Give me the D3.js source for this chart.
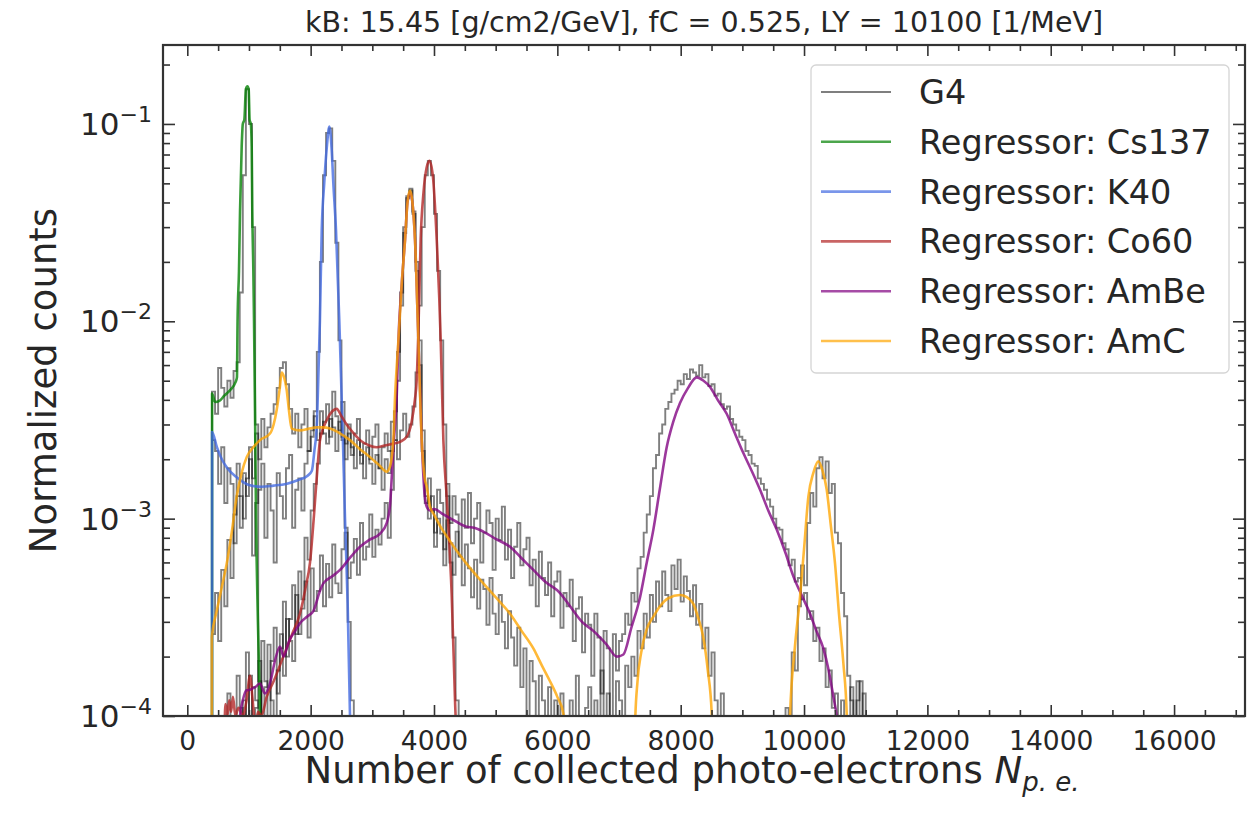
<!DOCTYPE html>
<html><head><meta charset="utf-8">
<script src="https://cdn.jsdelivr.net/npm/d3@7/dist/d3.min.js"></script>
<style>body{margin:0;background:#fff}svg{font-family:"DejaVu Sans",sans-serif}</style>
</head><body><svg id="chart" width="1256" height="813"></svg>
<script>
// ---------------- DATA ----------------
const titleText = "kB: 15.45 [g/cm2/GeV], fC = 0.525, LY = 10100 [1/MeV]";
const xTicks = [0,2000,4000,6000,8000,10000,12000,14000,16000];
const yTicks = [1e-4,1e-3,1e-2,1e-1];
const yTickExp = ["\u22124","\u22123","\u22122","\u22121"];
const seriesNames = ["G4","Regressor: Cs137","Regressor: K40","Regressor: Co60","Regressor: AmBe","Regressor: AmC"];
const seriesColors = ["#000000","#008000","#4169e1","#b22222","#800080","#ffa500"];

const binWidth = 50;
// G4 histograms (bin contents, bins of 50 p.e. starting at *Start)
const g4Cs137Start = 400;
const g4Cs137 = [4.4e-3,3.4e-3,5.8e-3,4.6e-3,3.7e-3,5.0e-3,4.1e-3,5.6e-3,6.2e-3,1.4e-2,5.5e-2,0.15,0.1,3e-2,3e-3,1.5e-4];
const g4K40Start = 400;
const g4K40 = [2.5e-3,2.2e-3,1.5e-3,2.3e-3,1.2e-3,1.8e-3,1.5e-3,7.5e-4,1.9e-3,1.3e-3,1.0e-3,1.6e-3,2.0e-3,6.5e-4,1.2e-3,1.4e-3,1.9e-3,8e-4,1.5e-3,1.1e-3,6e-4,1.7e-3,1.3e-3,1.0e-3,1.8e-3,2.1e-3,9e-4,1.4e-3,1.6e-3,1.1e-3,1.9e-3,
 2.2e-3,2.6e-3,3.5e-3,7e-3,2e-2,5.5e-2,9e-2,9.5e-2,6.5e-2,2.5e-2,8e-3,2.5e-3,9e-4,3e-4,1.2e-4];
const g4Co60Start = 600;
const g4Co60 = [0,1.3e-4,0,0,1.6e-4,1.1e-4,0,2.1e-4,0,1.4e-4,1.2e-4,0,2.4e-4,1.5e-4,0,1.9e-4,2.8e-4,1.3e-4,2.2e-4,3.8e-4,2.0e-4,3.1e-4,4.6e-4,2.6e-4,5.4e-4,3.9e-4,8e-4,6.2e-4,1.1e-3,1.5e-3,1.9e-3,2.7e-3,3.1e-3,3.8e-3,2.6e-3,4.4e-3,3.3e-3,2.8e-3,3.9e-3,2.4e-3,3.0e-3,2.1e-3,2.7e-3,3.2e-3,1.9e-3,2.4e-3,2.8e-3,2.0e-3,2.6e-3,3.0e-3,1.8e-3,2.3e-3,2.7e-3,2.2e-3,3.1e-3,2.5e-3,2.0e-3,2.8e-3,3.4e-3,2.6e-3,3.0e-3,3.7e-3,5.5e-3,1.2e-2,3e-2,5.5e-2,6.5e-2,5.5e-2,3.5e-2,1.8e-2,8e-3,3e-3,1.3e-3,6e-4,2.5e-4,1.2e-4];
const g4AmBeStart = 850;
const g4AmBe = [0,1.2e-4,0,1.6e-4,0,1.1e-4,1.9e-4,0,1.4e-4,2.3e-4,1.2e-4,0,1.7e-4,2.6e-4,
 1.6e-4,3.1e-4,2.4e-4,1.9e-4,4.1e-4,2.6e-4,3.5e-4,4.8e-4,2.5e-4,5.6e-4,3.4e-4,4.3e-4,6.5e-4,3.6e-4,5.9e-4,4.0e-4,7.4e-4,4.7e-4,4.2e-4,7.0e-4,8.5e-4,5.0e-4,6.0e-4,7.9e-4,5.2e-4,9.5e-4,6.2e-4,7.2e-4,1.05e-3,6.4e-4,8.8e-4,7.4e-4,1.0e-3,1.2e-3,8.0e-4,1.4e-3,
 2.5e-3,5e-3,1.2e-2,2.8e-2,4.2e-2,4.6e-2,3.5e-2,1.8e-2,6e-3,2.2e-3,1.2e-3,
 1.6e-3,1.1e-3,8.5e-4,1.4e-3,1.2e-3,7e-4,1.5e-3,9.5e-4,1.3e-3,1.05e-3,6.5e-4,1.25e-3,
 9e-4,1.35e-3,7.5e-4,1.0e-3,1.2e-3,6e-4,8.5e-4,1.1e-3,9.5e-4,5.5e-4,1.0e-3,7.8e-4,1.15e-3,6.2e-4,8.8e-4,5.0e-4,7.2e-4,9.5e-4,5.8e-4,7.0e-4,
 8.0e-4,4.6e-4,6.2e-4,3.6e-4,6.8e-4,5.0e-4,4.1e-4,6.0e-4,3.2e-4,4.8e-4,5.4e-4,2.8e-4,4.2e-4,3.6e-4,4.9e-4,2.4e-4,3.5e-4,4.0e-4,2.1e-4,3.3e-4,
 2.9e-4,1.6e-4,3.3e-4,2.5e-4,1.3e-4,2.7e-4,2.2e-4,0,2.6e-4,1.7e-4,2.4e-4,
 2.6e-4,3.3e-4,2.9e-4,4.2e-4,3.8e-4,5.6e-4,6.4e-4,8.5e-4,1.05e-3,1.3e-3,1.8e-3,2.1e-3,2.7e-3,3.0e-3,3.6e-3,3.9e-3,4.3e-3,4.5e-3,5.0e-3,4.8e-3,5.4e-3,5.1e-3,5.7e-3,5.5e-3,5.3e-3,6.0e-3,
 5.2e-3,5.4e-3,4.7e-3,4.8e-3,4.2e-3,4.3e-3,3.8e-3,3.6e-3,3.7e-3,3.2e-3,3.0e-3,2.8e-3,2.6e-3,2.5e-3,2.2e-3,2.1e-3,1.9e-3,1.85e-3,1.6e-3,1.5e-3,1.4e-3,1.25e-3,1.15e-3,1.0e-3,9e-4,8.8e-4,7.5e-4,7.0e-4,5.8e-4,6.2e-4,4.8e-4,5.0e-4,3.9e-4,
 4.2e-4,3.1e-4,3.4e-4,2.4e-4,2.8e-4,1.9e-4,2.2e-4,1.4e-4,1.7e-4,1.1e-4,1.3e-4,0,1.2e-4,0,0,1.4e-4,0,1.2e-4,1.5e-4,0];
const g4AmCStart = 400;
const g4AmC = [2.6e-4,4.2e-4,2.4e-4,5.5e-4,3.6e-4,7.8e-4,5.0e-4,1.05e-3,1.3e-3,9e-4,1.7e-3,1.3e-3,2.3e-3,1.6e-3,2.7e-3,2.0e-3,3.2e-3,2.3e-3,2.9e-3,3.4e-3,
 3.8e-3,4.6e-3,5.8e-3,6.2e-3,4.8e-3,3.6e-3,2.7e-3,
 3.4e-3,2.3e-3,3.0e-3,3.6e-3,2.2e-3,2.8e-3,3.3e-3,2.5e-3,3.5e-3,2.7e-3,2.4e-3,3.2e-3,2.9e-3,2.2e-3,3.1e-3,2.6e-3,2.0e-3,2.7e-3,2.3e-3,1.8e-3,2.5e-3,2.1e-3,1.6e-3,2.3e-3,1.9e-3,1.5e-3,2.1e-3,1.8e-3,1.4e-3,2.0e-3,1.7e-3,2.2e-3,
 3.5e-3,7e-3,1.4e-2,3e-2,4.3e-2,4.7e-2,3.6e-2,2e-2,8e-3,2.8e-3,1.3e-3,1.0e-3,
 1.3e-3,7.2e-4,1.0e-3,8.4e-4,5.8e-4,9.8e-4,7.5e-4,5.2e-4,8.6e-4,6.4e-4,4.6e-4,7.4e-4,
 5.6e-4,4.0e-4,6.2e-4,3.5e-4,4.9e-4,4.4e-4,2.9e-4,5.0e-4,3.3e-4,2.6e-4,4.1e-4,3.0e-4,2.2e-4,3.4e-4,
 2.5e-4,1.8e-4,2.8e-4,1.4e-4,2.2e-4,0,1.9e-4,1.5e-4,0,1.6e-4,1.2e-4,0,1.4e-4,0,1.2e-4,0,
 1.3e-4,0,0,1.2e-4,0,1.6e-4,0,0,1.1e-4,1.4e-4,0,1.2e-4,0,1.7e-4,0,1.3e-4,0,0,1.5e-4,1.2e-4,0,1.8e-4,1.4e-4,
 2.0e-4,1.6e-4,2.7e-4,2.2e-4,3.3e-4,2.5e-4,4.1e-4,3.0e-4,4.8e-4,3.6e-4,5.4e-4,4.1e-4,3.4e-4,5.8e-4,4.4e-4,6.2e-4,3.8e-4,5.1e-4,4.3e-4,3.2e-4,4.6e-4,2.9e-4,3.7e-4,2.2e-4,2.8e-4,1.6e-4,2.1e-4,1.2e-4,0,1.3e-4,
 0,0,0,0,0,0,0,0,0,0,0,0,0,0,0,0,0,0,0,0,
 1.1e-4,0,2.1e-4,1.7e-4,3.6e-4,5.8e-4,4.6e-4,9.5e-4,1.35e-3,1.15e-3,1.8e-3,2.05e-3,1.6e-3,1.95e-3,1.35e-3,1.5e-3,8.5e-4,7.5e-4,4.2e-4,3.2e-4,1.6e-4,1.2e-4,
 0,1.5e-4,0,1.3e-4,0];

// Regressor curves: [N_pe, normalized counts]
const regCs137 = [[400,1e-7],[402,4.3e-3],[450,3.9e-3],[520,3.95e-3],[600,4.2e-3],[700,4.5e-3],[780,4.9e-3],[805,5.2e-3],[815,1e-2],[838,1.8e-2],[855,3.6e-2],[882,7.7e-2],[900,1.0e-1],[925,1.05e-1],[950,1.5e-1],[975,1.55e-1],[995,1.5e-1],[1010,1.05e-1],[1030,1.0e-1],[1044,7.7e-2],[1054,3.6e-2],[1071,1.8e-2],[1082,1e-2],[1098,3.5e-3],[1115,1e-3],[1145,3e-4],[1180,1e-4],[1200,4e-5]];
const regK40 = [[400,1e-7],[402,2.75e-3],[480,2.3e-3],[560,2.0e-3],[650,1.8e-3],[800,1.62e-3],[1000,1.48e-3],[1200,1.45e-3],[1400,1.47e-3],[1600,1.5e-3],[1800,1.57e-3],[1950,1.65e-3],[2020,1.75e-3],[2060,2.2e-3],[2100,3e-3],[2130,6e-3],[2150,1e-2],[2180,2.9e-2],[2220,5e-2],[2260,7.5e-2],[2303,9.7e-2],[2340,7.5e-2],[2368,5e-2],[2411,2.9e-2],[2465,1e-2],[2519,2.8e-3],[2557,1e-3],[2600,3.7e-4],[2638,1e-4],[2660,4e-5]];
const regCo60 = [[590,5e-5],[620,1.15e-4],[650,1.0e-4],[680,1.2e-4],[710,1.05e-4],[740,1.25e-4],[780,1.0e-4],[830,1.1e-4],[900,1.0e-4],[960,1.2e-4],[1017,1.6e-4],[1060,1.2e-4],[1100,9e-5],[1150,1.05e-4],[1200,1.0e-4],[1287,1.25e-4],[1400,1.5e-4],[1557,2.0e-4],[1700,2.6e-4],[1827,3.3e-4],[1920,4.5e-4],[1990,6e-4],[2050,1e-3],[2098,1.6e-3],[2152,2.5e-3],[2260,3.15e-3],[2350,3.5e-3],[2422,3.6e-3],[2500,3.3e-3],[2584,3.0e-3],[2700,2.7e-3],[2800,2.5e-3],[2950,2.35e-3],[3071,2.3e-3],[3200,2.35e-3],[3341,2.4e-3],[3450,2.45e-3],[3557,2.6e-3],[3638,3.1e-3],[3690,4e-3],[3719,5e-3],[3747,9e-3],[3784,2.6e-2],[3830,4.5e-2],[3880,6e-2],[3926,6.5e-2],[3980,5.5e-2],[4044,2.6e-2],[4109,8e-3],[4152,2.5e-3],[4206,1.28e-3],[4287,4.1e-4],[4341,1.2e-4],[4360,8e-5],[4380,4e-5]];
const regAmBe = [[830,4e-5],[855,1e-4],[900,1.2e-4],[960,1.35e-4],[1017,1.36e-4],[1100,1.4e-4],[1179,1.46e-4],[1260,1.3e-4],[1350,1.5e-4],[1420,1.9e-4],[1503,2.25e-4],[1560,2.0e-4],[1650,2.4e-4],[1750,2.7e-4],[1827,2.95e-4],[1950,3.2e-4],[2044,3.4e-4],[2150,4.3e-4],[2206,4.7e-4],[2350,5.1e-4],[2476,5.5e-4],[2650,6.4e-4],[2800,7.2e-4],[2950,7.8e-4],[3125,8.4e-4],[3233,9.5e-4],[3290,1.2e-3],[3314,1.6e-3],[3350,2.5e-3],[3395,4.1e-3],[3423,8e-3],[3480,1.6e-2],[3531,2.6e-2],[3570,4e-2],[3612,4.5e-2],[3650,4e-2],[3692,2.6e-2],[3747,8e-3],[3801,2.5e-3],[3850,1.3e-3],[3882,1.15e-3],[3936,1.1e-3],[4000,1.12e-3],[4152,1.05e-3],[4350,9.7e-4],[4530,9.1e-4],[4650,9.0e-4],[4800,8.6e-4],[5000,7.9e-4],[5233,7.2e-4],[5420,6.3e-4],[5611,5.5e-4],[5800,4.8e-4],[6044,4.2e-4],[6206,3.6e-4],[6400,3.0e-4],[6584,2.7e-4],[6800,2.3e-4],[6963,2.0e-4],[7071,2.05e-4],[7200,2.8e-4],[7341,4.0e-4],[7450,6e-4],[7557,8.8e-4],[7660,1.4e-3],[7773,2.3e-3],[7880,3.1e-3],[7989,3.85e-3],[8120,4.6e-3],[8260,5.2e-3],[8370,5.0e-3],[8476,4.65e-3],[8600,4.0e-3],[8746,3.4e-3],[8880,2.7e-3],[9016,2.15e-3],[9150,1.75e-3],[9287,1.4e-3],[9420,1.1e-3],[9557,8.8e-4],[9700,6.7e-4],[9827,5.1e-4],[9960,4.1e-4],[10097,3.3e-4],[10200,2.7e-4],[10313,2.2e-4],[10400,1.7e-4],[10476,1.25e-4],[10530,1.0e-4],[10560,8e-5]];
const regAmC = [[395,1e-7],[398,2.5e-4],[477,3.4e-4],[560,4.5e-4],[638,5.9e-4],[720,8.5e-4],[800,1.29e-3],[880,1.7e-3],[963,2.05e-3],[1070,2.3e-3],[1179,2.5e-3],[1341,2.7e-3],[1400,3.0e-3],[1449,3.55e-3],[1500,4.6e-3],[1530,5.5e-3],[1570,5.2e-3],[1611,4.5e-3],[1650,3.5e-3],[1692,2.86e-3],[1827,2.8e-3],[1960,2.85e-3],[2098,2.9e-3],[2200,2.9e-3],[2314,2.86e-3],[2480,2.7e-3],[2638,2.5e-3],[2800,2.25e-3],[2962,2.05e-3],[3100,1.88e-3],[3233,1.73e-3],[3287,1.84e-3],[3341,2.5e-3],[3368,4.1e-3],[3423,8e-3],[3480,1.6e-2],[3531,2.6e-2],[3570,4e-2],[3612,4.6e-2],[3650,4e-2],[3692,2.6e-2],[3747,8e-3],[3801,2.5e-3],[3850,1.6e-3],[3882,1.45e-3],[3936,1.15e-3],[4000,1.05e-3],[4098,9.2e-4],[4200,8.2e-4],[4350,7e-4],[4530,5.9e-4],[4800,4.7e-4],[5000,4.0e-4],[5233,3.3e-4],[5420,2.7e-4],[5611,2.2e-4],[5750,1.8e-4],[5881,1.5e-4],[6000,1.25e-4],[6097,1.03e-4],[6150,5e-5],[6200,1e-7],[7200,1e-7],[7260,9e-5],[7300,1.5e-4],[7360,2.1e-4],[7449,2.75e-4],[7560,3.2e-4],[7665,3.6e-4],[7800,3.95e-4],[7989,4.1e-4],[8100,4.0e-4],[8205,3.7e-4],[8290,3.1e-4],[8367,2.5e-4],[8440,1.7e-4],[8503,1.03e-4],[8530,5e-5],[8560,1e-7],[9720,1e-7],[9773,1e-4],[9850,2.2e-4],[9935,4.0e-4],[10000,7e-4],[10070,1.29e-3],[10150,1.7e-3],[10232,1.95e-3],[10300,1.75e-3],[10368,1.4e-3],[10430,9.5e-4],[10503,5.9e-4],[10570,3.2e-4],[10638,1.85e-4],[10692,1.03e-4],[10720,5e-5],[10750,1e-7]];

// ---------------- LAYOUT ----------------
const P = {l:163, r:1245, t:45, b:716};
const svg = d3.select("#chart");
const x = d3.scaleLinear().domain([-394, 17150]).range([P.l, P.r]);
const y = d3.scaleLog().domain([1e-4, 0.2512]).range([P.b, P.t]);
const yv = v => v > 0 ? y(Math.max(v, 1e-7)) : P.b + 40;

svg.append("defs").append("clipPath").attr("id","clip")
  .append("rect").attr("x",P.l).attr("y",P.t).attr("width",P.r-P.l).attr("height",P.b-P.t);
const gPlot = svg.append("g").attr("clip-path","url(#clip)");

function stepPts(start, vals){
  const pts = [[start,0]];
  vals.forEach((v,i)=>pts.push([start+i*binWidth, v]));
  const end = start + vals.length*binWidth;
  pts.push([end, vals[vals.length-1]]);
  pts.push([end, 0]);
  return pts;
}
const stepLine = d3.line().x(d=>x(d[0])).y(d=>yv(d[1])).curve(d3.curveStepAfter);
[[g4Cs137Start,g4Cs137],[g4K40Start,g4K40],[g4Co60Start,g4Co60],[g4AmBeStart,g4AmBe],[g4AmCStart,g4AmC]].forEach(([s,v])=>{
  gPlot.append("path").attr("d", stepLine(stepPts(s,v)))
    .attr("fill","none").attr("stroke","#000").attr("stroke-opacity",0.5).attr("stroke-width",1.9);
});
const curveLine = d3.line().x(d=>x(d[0])).y(d=>yv(d[1])).curve(d3.curveMonotoneX);
[regCs137, regK40, regCo60, regAmBe, regAmC].forEach((r,i)=>{
  gPlot.append("path").attr("d", curveLine(r)).attr("fill","none")
    .attr("stroke", seriesColors[i+1]).attr("stroke-opacity",0.78).attr("stroke-width",2.6)
    .attr("stroke-linejoin","round");
});

// ---------------- AXES ----------------
const axisColor = "#333";
const minorX = d3.range(0, 17001, 500).filter(v=>v%2000!==0);
const minorY = [];
[1e-4,1e-3,1e-2,1e-1].forEach(d=>{for(let k=2;k<=9;k++){const v=k*d; if(v<0.2512) minorY.push(v);}});

const bottomAxis = d3.axisBottom(x).tickValues(xTicks).tickSize(-11).tickPadding(15).tickFormat(d3.format("d"));
const gx = svg.append("g").attr("transform",`translate(0,${P.b})`).call(bottomAxis);
svg.append("g").attr("transform",`translate(0,${P.b})`).call(d3.axisBottom(x).tickValues(minorX).tickSize(-6).tickFormat(""));
svg.append("g").attr("transform",`translate(0,${P.t})`).call(d3.axisTop(x).tickValues(xTicks).tickSize(-11).tickFormat(""));
svg.append("g").attr("transform",`translate(0,${P.t})`).call(d3.axisTop(x).tickValues(minorX).tickSize(-6).tickFormat(""));
svg.append("g").attr("transform",`translate(${P.l},0)`).call(d3.axisLeft(y).tickValues(yTicks).tickSize(-12).tickFormat(""));
svg.append("g").attr("transform",`translate(${P.l},0)`).call(d3.axisLeft(y).tickValues(minorY).tickSize(-7).tickFormat(""));
svg.append("g").attr("transform",`translate(${P.r},0)`).call(d3.axisRight(y).tickValues(yTicks).tickSize(-12).tickFormat(""));
svg.append("g").attr("transform",`translate(${P.r},0)`).call(d3.axisRight(y).tickValues(minorY).tickSize(-7).tickFormat(""));
svg.selectAll(".domain").remove();
svg.selectAll(".tick line").attr("stroke",axisColor).attr("stroke-width",1.6);
gx.selectAll(".tick text").attr("font-size",26.5).attr("fill","#262626").attr("font-family","DejaVu Sans");

// y tick labels with superscript
yTicks.forEach((t,i)=>{
  const tx = svg.append("text").attr("x",P.l-11).attr("y",y(t)+11).attr("text-anchor","end")
    .attr("font-size",31).attr("fill","#262626");
  tx.append("tspan").text("10");
  tx.append("tspan").attr("dy",-13).attr("font-size",22).text(yTickExp[i]);
});

// frame
svg.append("rect").attr("x",P.l).attr("y",P.t).attr("width",P.r-P.l).attr("height",P.b-P.t)
  .attr("fill","none").attr("stroke",axisColor).attr("stroke-width",2.2);

// title & labels
svg.append("text").attr("x",(P.l+P.r)/2).attr("y",32).attr("text-anchor","middle")
  .attr("font-size",28.5).attr("fill","#262626").text(titleText);
const xl = svg.append("text").attr("x",692).attr("y",783).attr("text-anchor","middle")
  .attr("font-size",37).attr("fill","#262626");
xl.append("tspan").text("Number of collected photo-electrons ");
xl.append("tspan").attr("font-style","italic").text("N");
xl.append("tspan").attr("font-style","italic").attr("font-size",26).attr("dy",8).text("p. e.");
svg.append("text").attr("transform",`translate(56,${(P.t+P.b)/2}) rotate(-90)`).attr("text-anchor","middle")
  .attr("font-size",37).attr("fill","#262626").text("Normalized counts");

// ---------------- LEGEND ----------------
const L = {x:811, y:65, w:418, h:308, row:49.8, first:92};
svg.append("rect").attr("x",L.x).attr("y",L.y).attr("width",L.w).attr("height",L.h).attr("rx",5)
  .attr("fill","#fff").attr("fill-opacity",0.85).attr("stroke","#d5d5d5").attr("stroke-width",1.3);
seriesNames.forEach((n,i)=>{
  const yy = L.first + i*L.row;
  svg.append("line").attr("x1",821).attr("x2",891).attr("y1",yy).attr("y2",yy)
    .attr("stroke",seriesColors[i]).attr("stroke-opacity", i===0?0.5:0.7).attr("stroke-width", i===0?1.8:2.6);
  svg.append("text").attr("x",919).attr("y",yy+12).attr("font-size",33.5).attr("fill","#262626").text(n);
});
</script></body></html>
